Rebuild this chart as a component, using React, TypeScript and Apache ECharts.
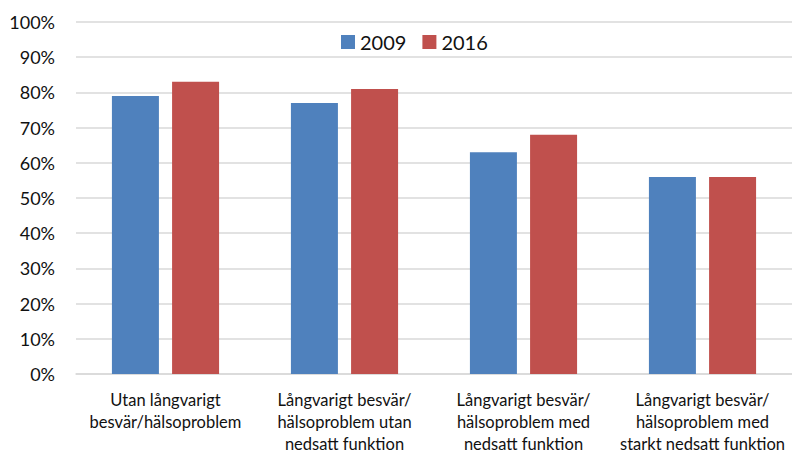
import React, { useEffect, useRef } from "react";
import * as echarts from "echarts";

const categories = [
  "Utan långvarigt\nbesvär/hälsoproblem",
  "Långvarigt besvär/\nhälsoproblem utan\nnedsatt funktion",
  "Långvarigt besvär/\nhälsoproblem med\nnedsatt funktion",
  "Långvarigt besvär/\nhälsoproblem med\nstarkt nedsatt funktion",
];
const seriesNames = ["2009", "2016"];
const values2009 = [79, 77, 63, 56];
const values2016 = [83, 81, 68, 56];

export default function App() {
  const ref = useRef<HTMLDivElement>(null);
  useEffect(() => {
    if (!ref.current) return;
    const chart = echarts.init(ref.current, undefined, { renderer: "svg" });
    const font = "Lato, 'Open Sans', sans-serif";
    chart.setOption({
      animation: false,
      textStyle: { fontFamily: font },
      legend: {
        data: seriesNames,
        left: 336,
        top: 27,
        itemWidth: 14,
        itemHeight: 14,
        itemGap: 16,
        icon: "rect",
        textStyle: { fontSize: 20, color: "#111", fontFamily: font },
      },
      grid: { left: 76, top: 22, width: 717, height: 357, containLabel: false },
      xAxis: {
        type: "category",
        data: categories,
        axisLine: { show: true, lineStyle: { color: "#D9D9D9", width: 1.5 } },
        axisTick: { show: false },
        axisLabel: {
          interval: 0,
          fontSize: 16.5,
          lineHeight: 22,
          color: "#111",
          margin: 15,
          fontFamily: font,
        },
      },
      yAxis: {
        type: "value",
        min: 0,
        max: 100,
        interval: 10,
        axisLine: { show: false },
        axisTick: { show: false },
        splitLine: { lineStyle: { color: "#D9D9D9", width: 1.5 } },
        axisLabel: {
          formatter: "{value}%",
          fontSize: 18,
          color: "#111",
          margin: 21,
          fontFamily: font,
        },
      },
      series: [
        {
          name: seriesNames[0],
          type: "bar",
          data: values2009,
          barWidth: 47,
          barGap: "28%",
          itemStyle: { color: "#4F81BD" },
        },
        {
          name: seriesNames[1],
          type: "bar",
          data: values2016,
          barWidth: 47,
          itemStyle: { color: "#C0504D" },
        },
      ],
    });
    return () => chart.dispose();
  }, []);
  return (
    <div
      ref={ref}
      style={{ position: "fixed", left: 0, top: 0, width: 792, height: 455, background: "#fff" }}
    />
  );
}
